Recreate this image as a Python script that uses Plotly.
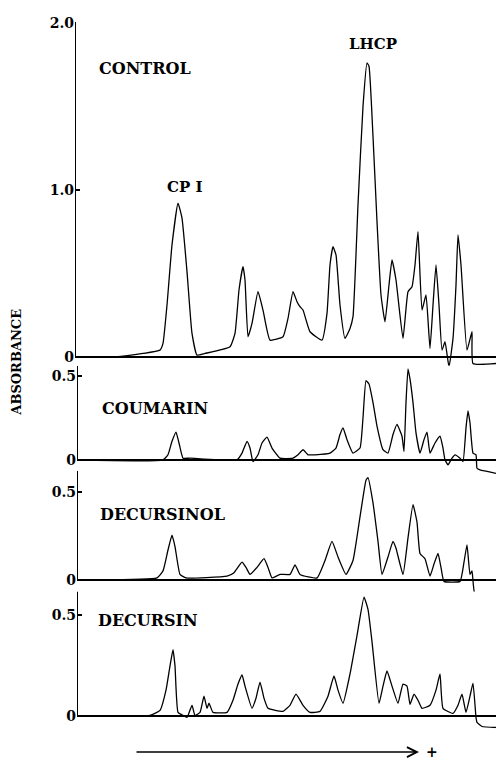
import plotly.graph_objects as go

W, H = 496, 761

# ---- data (relative migration distance, absorbance) ----
control_x = [0, 40, 68, 85, 88, 92, 97, 103, 107, 112, 117, 122, 130, 155, 160, 164, 168, 170, 173, 177,
             183, 188, 195, 208, 213, 218, 222, 225, 228, 235, 247, 252, 255, 258, 261, 265, 270, 275, 278, 283,
             288, 292, 294, 298, 302, 306, 310, 314, 317, 321, 328, 333, 337, 340, 343, 347, 351, 355, 358, 361,
             364, 367, 370, 374, 378, 381, 383, 386, 392, 397, 398, 421]
control_y = [0, 0, 0.02, 0.04, 0.08, 0.31, 0.67, 0.92, 0.83, 0.51, 0.14, 0.01, 0.02, 0.06, 0.14, 0.40, 0.54, 0.46, 0.12, 0.20,
             0.39, 0.28, 0.10, 0.12, 0.23, 0.39, 0.33, 0.30, 0.28, 0.15, 0.10, 0.26, 0.55, 0.66, 0.61, 0.31, 0.11, 0.17, 0.24, 0.91,
             1.50, 1.76, 1.74, 1.32, 0.81, 0.37, 0.21, 0.43, 0.58, 0.46, 0.11, 0.39, 0.42, 0.55, 0.75, 0.28, 0.37, 0.05, 0.31, 0.55,
             0.31, 0.04, 0.09, -0.06, 0.11, 0.43, 0.73, 0.55, 0.04, 0.15, -0.04, -0.04]

coumarin_x = [2, 88, 93, 97, 101, 104, 108, 115, 162, 167, 172, 175, 178, 183, 187, 192, 197, 205, 218, 223,
              228, 233, 240, 255, 261, 265, 268, 272, 278, 285, 288, 291, 294, 298, 302, 308, 313, 318, 322, 327,
              329, 331, 333, 335, 338, 341, 345, 349, 352, 355, 360, 365, 368, 370, 373, 377, 380, 385, 388, 391,
              393, 395, 398, 401, 402, 405, 421]
coumarin_y = [0, 0, 0.03, 0.11, 0.165, 0.10, 0.01, 0.01, 0, 0.04, 0.11, 0.07, -0.01, 0.03, 0.10, 0.135, 0.07, 0.01, 0.01, 0.03,
              0.06, 0.03, 0.03, 0.04, 0.07, 0.15, 0.19, 0.12, 0.04, 0.07, 0.25, 0.47, 0.45, 0.34, 0.20, 0.06, 0.04, 0.15, 0.21, 0.14,
              0.05, 0.34, 0.54, 0.48, 0.34, 0.16, 0.04, 0.12, 0.165, 0.04, 0.10, 0.14, 0.07, 0, -0.03, 0.01, 0.03, 0.01, -0.01, 0.19,
              0.29, 0.22, 0.04, 0.03, -0.05, -0.06, -0.08]

decursinol_x = [2, 82, 88, 93, 97, 100, 105, 111, 152, 159, 167, 171, 175, 182, 189, 193, 197, 205, 215, 220,
                225, 242, 250, 257, 263, 271, 278, 285, 291, 293, 298, 303, 307, 313, 318, 321, 328, 333, 338, 342,
                345, 350, 355, 359, 363, 366, 369, 385, 389, 392, 395, 397, 400, 421]
decursinol_y = [0, 0.01, 0.05, 0.17, 0.255, 0.19, 0.03, 0.01, 0.02, 0.04, 0.10, 0.07, 0.03, 0.07, 0.12, 0.07, 0.01, 0.03, 0.03, 0.085,
                0.03, 0.01, 0.11, 0.22, 0.13, 0.03, 0.11, 0.36, 0.57, 0.585, 0.44, 0.22, 0.03, 0.13, 0.22, 0.18, 0.03, 0.24, 0.43, 0.33,
                0.15, 0.12, 0.02, 0.09, 0.15, 0.07, -0.01, -0.01, 0.10, 0.20, 0.03, 0.05, -0.085, -0.11]

decursin_x = [2, 75, 85, 91, 95, 98, 100, 103, 108, 112, 117, 120, 125, 129, 132, 134, 138, 152, 158, 163,
              167, 170, 177, 181, 185, 189, 193, 208, 215, 221, 228, 235, 245, 253, 259, 263, 268, 275, 282, 289,
              293, 297, 304, 308, 312, 317, 323, 328, 332, 335, 339, 343, 347, 355, 361, 365, 368, 378, 383, 387,
              391, 395, 398, 401, 402, 407, 421]
decursin_y = [0, 0.005, 0.03, 0.13, 0.25, 0.33, 0.25, 0.02, 0.005, -0.005, 0.055, 0.005, 0.02, 0.10, 0.04, 0.065, 0.02, 0.02, 0.08, 0.16,
              0.205, 0.15, 0.04, 0.09, 0.17, 0.09, 0.04, 0.025, 0.055, 0.11, 0.055, 0.02, 0.025, 0.10, 0.20, 0.13, 0.065, 0.21, 0.40, 0.59,
              0.53, 0.37, 0.065, 0.15, 0.225, 0.15, 0.065, 0.16, 0.15, 0.06, 0.11, 0.08, 0.04, 0.055, 0.13, 0.21, 0.04, 0.015, 0.055, 0.11,
              0.02, 0.10, 0.165, -0.005, -0.03, -0.05, -0.055]

panel_names = ["CONTROL", "COUMARIN", "DECURSINOL", "DECURSIN"]
tick_vals = [[0, 1.0, 2.0], [0, 0.5], [0, 0.5], [0, 0.5]]
tick_text = [["0", "1.0", "2.0"], ["0", "0.5"], ["0", "0.5"], ["0", "0.5"]]
peak_labels = [("CP I", 184, 182), ("LHCP", 373, 37)]

# ---- layout geometry (pixels) ----
# (axis left px, top px, bottom px, y at top, y at bottom)
geom = [
    (75, 15, 364, 2.006, -0.065),
    (77, 362, 472, 0.559, -0.088),
    (77, 468, 598, 0.625, -0.114),
    (77, 590, 728, 0.618, -0.059),
]
label_pos = [(97, 62), (100, 405), (98, 512), (96, 619)]

series = [(control_x, control_y), (coumarin_x, coumarin_y),
          (decursinol_x, decursinol_y), (decursin_x, decursin_y)]

SERIF = "DejaVu Serif"
fig = go.Figure()
layout = dict(width=W, height=H, margin=dict(l=0, r=0, t=0, b=0),
              paper_bgcolor="white", plot_bgcolor="white", showlegend=False)
shapes = []
annotations = []

for i, ((xs, ys), (lp, tp, bp, ytop, ybot)) in enumerate(zip(series, geom)):
    n = "" if i == 0 else str(i + 1)
    fig.add_trace(go.Scatter(x=xs, y=ys, mode="lines", xaxis="x" + n, yaxis="y" + n,
                             line=dict(color="black", width=1.3, shape="spline", smoothing=0.4),
                             hoverinfo="skip"))
    x0 = lp - 75
    layout["xaxis" + n] = dict(domain=[lp / W, 1], range=[x0, 421], anchor="y" + n,
                               showgrid=False, zeroline=False, showline=False,
                               showticklabels=False, ticks="")
    layout["yaxis" + n] = dict(domain=[1 - bp / H, 1 - tp / H], range=[ybot, ytop], anchor="x" + n,
                               showgrid=False, zeroline=True, zerolinecolor="black", zerolinewidth=2,
                               showline=False, tickvals=tick_vals[i], ticktext=tick_text[i],
                               ticks="inside", ticklen=5, tickwidth=1.5, tickcolor="black",
                               tickfont=dict(family=SERIF, size=14, color="black", weight="bold"))
    shapes.append(dict(type="line", xref="x" + n, yref="y" + n, x0=x0, x1=x0, y0=0, y1=ytop,
                       line=dict(color="black", width=2)))
    lx, ly = label_pos[i]
    annotations.append(dict(text="<b>%s</b>" % panel_names[i], xref="paper", yref="paper",
                            x=lx / W, y=1 - ly / H, xanchor="left", yanchor="middle", showarrow=False,
                            font=dict(family=SERIF, size=16, color="black")))

for txt, px, py in peak_labels:
    annotations.append(dict(text="<b>%s</b>" % txt, xref="paper", yref="paper",
                            x=px / W, y=1 - py / H, xanchor="center", yanchor="middle", showarrow=False,
                            font=dict(family=SERIF, size=15, color="black")))

annotations.append(dict(text="<b>ABSORBANCE</b>", xref="paper", yref="paper", x=17 / W, y=1 - 359 / H,
                        xanchor="center", yanchor="middle", textangle=-90, showarrow=False,
                        font=dict(family=SERIF, size=13, color="black")))
annotations.append(dict(text="", xref="paper", yref="paper", x=419 / W, y=1 - 752 / H,
                        ax=-284, ay=0, showarrow=True, arrowhead=5, arrowsize=1.3, arrowwidth=1.5,
                        arrowcolor="black"))
annotations.append(dict(text="<b>+</b>", xref="paper", yref="paper", x=432 / W, y=1 - 752 / H,
                        xanchor="center", yanchor="middle", showarrow=False,
                        font=dict(family=SERIF, size=14, color="black")))

layout["shapes"] = shapes
layout["annotations"] = annotations
fig.update_layout(**layout)
fig.write_html("out.html")
